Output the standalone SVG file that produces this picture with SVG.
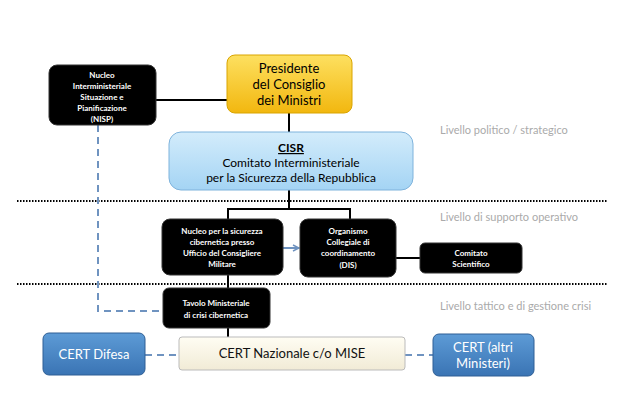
<svg xmlns="http://www.w3.org/2000/svg" width="630" height="419" viewBox="0 0 630 419">
<style>
text{font-family:Lato,"Open Sans",sans-serif;text-anchor:middle}
.blk{fill:#000;stroke:#333;stroke-width:1}
.bt{fill:#fff;font-size:8px;font-weight:bold}
.lv{fill:#aaa;font-size:11px;text-anchor:start}
.ln{stroke:#000;stroke-width:2;fill:none}
.dash{stroke:#6f93c0;stroke-width:2;stroke-dasharray:7,5;fill:none}
.dot{stroke:#000;stroke-width:2;stroke-dasharray:1.5,1.5}
</style>
<defs>
<linearGradient id="gy" x1="0" y1="0" x2="0" y2="1"><stop offset="0" stop-color="#fde060"/><stop offset="1" stop-color="#f2b70f"/></linearGradient>
<linearGradient id="gb" x1="0" y1="0" x2="0" y2="1"><stop offset="0" stop-color="#d3ecfb"/><stop offset="1" stop-color="#a4d4f4"/></linearGradient>
<linearGradient id="gc" x1="0" y1="0" x2="0" y2="1"><stop offset="0" stop-color="#5d9bd6"/><stop offset="1" stop-color="#3a74b4"/></linearGradient>
<linearGradient id="gw" x1="0" y1="0" x2="0" y2="1"><stop offset="0" stop-color="#fffdf3"/><stop offset="1" stop-color="#f1ebd6"/></linearGradient>
<marker id="ar" markerWidth="8" markerHeight="8" refX="7" refY="4" orient="auto" markerUnits="userSpaceOnUse"><path d="M1,1 L7,4 L1,7" fill="none" stroke="#6f93c0" stroke-width="1.5"/></marker>
</defs>
<g id="levels">
<line class="dot" x1="17" y1="201" x2="608" y2="201"/>
<line class="dot" x1="17" y1="284" x2="608" y2="284"/>
<text class="lv" x="440" y="134">Livello politico / strategico</text>
<text class="lv" x="440" y="221">Livello di supporto operativo</text>
<text class="lv" x="440" y="310">Livello tattico e di gestione crisi</text>
</g>
<g id="connectors">
<line class="ln" x1="156" y1="100" x2="227" y2="100"/>
<line class="ln" x1="289" y1="113" x2="289" y2="132"/>
<path class="ln" d="M289,190 V209 M228,219 V209 H350 V219"/>
<line stroke="#6f93c0" stroke-width="2" x1="283" y1="248" x2="299" y2="248" marker-end="url(#ar)"/>
<line class="ln" x1="396" y1="258" x2="420" y2="258"/>
<line class="ln" x1="228" y1="275" x2="228" y2="288"/>
<line class="ln" x1="228" y1="328" x2="228" y2="337"/>
<path class="dash" d="M98,125 V311 H163"/>
<line class="dash" x1="145" y1="355" x2="179" y2="355"/>
<line class="dash" x1="405" y1="355" x2="433" y2="355"/>
</g>
<g id="nisp"><rect class="blk" x="49" y="65" width="107" height="60" rx="8"/>
<text class="bt" x="102" y="78">Nucleo</text><text class="bt" x="102" y="89">Interministeriale</text><text class="bt" x="102" y="100">Situazione e</text><text class="bt" x="102" y="111">Pianificazione</text><text class="bt" x="102" y="122">(NISP)</text></g>
<g id="presidente"><rect x="227" y="55" width="125" height="58" rx="8" fill="url(#gy)" stroke="#d9a400"/>
<text x="289" y="73" font-size="13">Presidente</text><text x="289" y="89" font-size="13">del Consiglio</text><text x="289" y="105" font-size="13">dei Ministri</text></g>
<g id="cisr"><rect x="169" y="132" width="244" height="58" rx="12" fill="url(#gb)" stroke="#7fb3dc"/>
<text x="291" y="152" font-size="12" font-weight="bold" text-decoration="underline">CISR</text>
<text x="291" y="167" font-size="12">Comitato Interministeriale</text>
<text x="291" y="182" font-size="12">per la Sicurezza della Repubblica</text></g>
<g id="nucleo"><rect class="blk" x="162" y="219" width="121" height="56" rx="8"/>
<text class="bt" x="222" y="234">Nucleo per la sicurezza</text><text class="bt" x="222" y="245">cibernetica presso</text><text class="bt" x="222" y="256">Ufficio del Consigliere</text><text class="bt" x="222" y="267">Militare</text></g>
<g id="organismo"><rect class="blk" x="300" y="219" width="96" height="58" rx="8"/>
<text class="bt" x="348" y="234">Organismo</text><text class="bt" x="348" y="245">Collegiale di</text><text class="bt" x="348" y="256">coordinamento</text><text class="bt" x="348" y="268">(DIS)</text></g>
<g id="comitato"><rect class="blk" x="420" y="243" width="102" height="30" rx="5"/>
<text class="bt" x="471" y="256">Comitato</text><text class="bt" x="471" y="267">Scientifico</text></g>
<g id="tavolo"><rect class="blk" x="163" y="288" width="107" height="40" rx="6"/>
<text class="bt" x="216" y="306">Tavolo Ministeriale</text><text class="bt" x="216" y="318">di crisi cibernetica</text></g>
<g id="certdifesa"><rect x="43" y="333" width="102" height="42" rx="6" fill="url(#gc)" stroke="#2f5f95"/>
<text x="94" y="359" font-size="13" fill="#fff">CERT Difesa</text></g>
<g id="certnaz"><rect x="179" y="337" width="226" height="33" rx="3" fill="url(#gw)" stroke="#bbb"/>
<text x="292" y="358" font-size="13" fill="#111">CERT Nazionale c/o MISE</text></g>
<g id="certaltri"><rect x="433" y="334" width="101" height="42" rx="6" fill="url(#gc)" stroke="#2f5f95"/>
<text x="483" y="352" font-size="13" fill="#fff">CERT (altri</text><text x="483" y="368" font-size="13" fill="#fff">Ministeri)</text></g>
</svg>
